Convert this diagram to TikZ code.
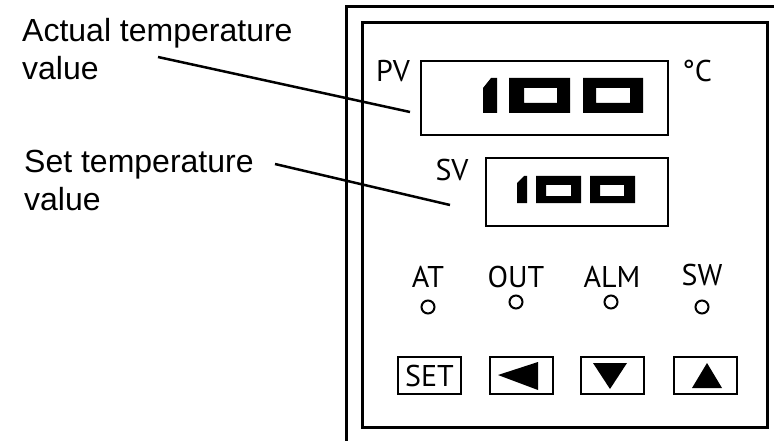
\documentclass[tikz,border=0pt]{standalone}
\usepackage{fontspec}
\newfontfamily\calloutfont{Liberation Sans}
\newfontfamily\panelfont{PT Sans}
\usepackage{tikz}

\begin{document}
\begin{tikzpicture}[x=1pt,y=-1pt,
 callout/.style={inner sep=0pt,align=left,anchor=base west,font=\calloutfont\fontsize{32}{38}\selectfont},
 tag/.style={inner sep=0pt,anchor=base,font=\panelfont\fontsize{30}{32}\selectfont},
 display/.style={draw,line width=2.6pt,inner sep=0pt},
 key/.style={draw,line width=2pt,inner sep=0pt,minimum width=63pt,minimum height=37pt,font=\panelfont\fontsize{30}{32}\selectfont},
 lamp/.style={draw,circle,line width=2pt,inner sep=0pt,minimum size=13pt}]
\useasboundingbox (0,0) rectangle (774,441);
% housing
\draw[line width=3pt] (346,441)--(346,7)--(774,7);
\draw[line width=3pt] (362,23) rectangle (767,427);
% displays
\node[display,minimum width=247pt,minimum height=74pt] (pvbox) at (544.5,98) {};
\node[display,minimum width=182pt,minimum height=68pt] (svbox) at (577,192) {};
\node[tag] (pv) at (393,82) {PV};
\node[tag] (sv) at (452,180) {SV};
\node[tag] (unit) at (697,82) {°C};
% digits 100 (PV)
\fill (483,88)--(491,78)--(497,78)--(497,113)--(483,113)--cycle;
\fill[even odd rule] (509,78) rectangle (570,113) (524,88) rectangle (557,103);
\fill[even odd rule] (583,78) rectangle (643,113) (596,88) rectangle (630,103);
% digits 100 (SV)
\fill (517,183)--(524,176)--(527,176)--(527,203)--(517,203)--cycle;
\fill[even odd rule] (536,176) rectangle (581,203) (546,185) rectangle (571,196);
\fill[even odd rule] (590,176) rectangle (635,203) (600,185) rectangle (624,196);
% indicator lamps
\node[tag] (at) at (428,287) {AT};
\node[tag] (out) at (516,287) {OUT};
\node[tag] (alm) at (612,287) {ALM};
\node[tag] (sw) at (702,285) {SW};
\node[lamp] (atlamp) at (428,307) {};
\node[lamp] (outlamp) at (516,302) {};
\node[lamp] (almlamp) at (611,302) {};
\node[lamp] (swlamp) at (702,307) {};
% keys
\node[key] (setkey) at (429.5,375.5) {SET};
\node[key] (leftkey) at (521,375.5) {};
\node[key] (downkey) at (612.5,375.5) {};
\node[key] (upkey) at (705,375.5) {};
\fill (498,375)--(538,362)--(538,390)--cycle;
\fill (593,363)--(627,363)--(610,389)--cycle;
\fill (692,388)--(722,388)--(707,363)--cycle;
% callouts
\node[callout] (actual) at (22,80) {Actual temperature\\value};
\node[callout] (setval) at (24,210) {Set temperature\\value};
\coordinate (actfrom) at (158,57);
\coordinate (actto) at (410,112);
\coordinate (setfrom) at (275,164);
\coordinate (setto) at (450,205);
\draw[line width=2.5pt] (actfrom)--(actto);
\draw[line width=2.5pt] (setfrom)--(setto);
\end{tikzpicture}
\end{document}
